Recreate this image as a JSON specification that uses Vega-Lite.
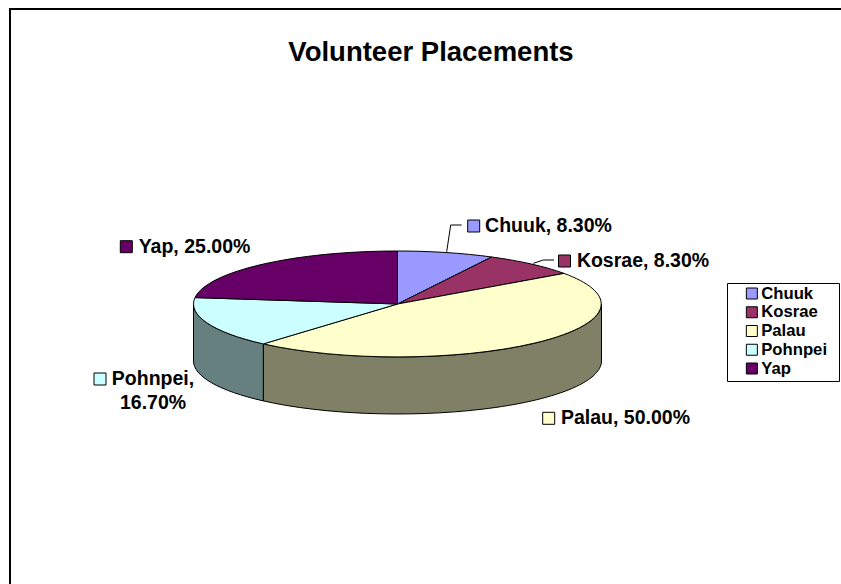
{
"$schema":"https://vega.github.io/schema/vega-lite/v6.json",
"width":840,"height":590,
"autosize":"none",
"padding":{"left":10,"top":9,"right":0,"bottom":0},
"background":"white",
"title":{"text":"Volunteer Placements","font":"Liberation Sans","fontSize":27.5,"fontWeight":"bold","color":"black","anchor":"middle","frame":"group","orient":"top","offset":-57,"dx":1},
"view":{"stroke":"black","strokeWidth":2,"fill":"white"},
"data":{"values":[
{"name":"Chuuk","share":8.3,"i":1,"label":"Chuuk, 8.30%"},
{"name":"Kosrae","share":8.3,"i":2,"label":"Kosrae, 8.30%"},
{"name":"Palau","share":50,"i":3,"label":"Palau, 50.00%"},
{"name":"Pohnpei","share":16.7,"i":4,"label":"Pohnpei,\n16.70%"},
{"name":"Yap","share":25,"i":5,"label":"Yap, 25.00%"}
]},
"layer":[
{"transform":[{"filter":"datum.share==50||datum.share==16.7"}],
 "mark":{"type":"point","filled":true,"opacity":1,"stroke":"black","strokeWidth":1,"size":4},
 "encoding":{
  "color":{"field":"name","type":"nominal","legend":null,"scale":{"domain":["Palau","Pohnpei"],"range":["#808066","#668080"]}},
  "shape":{"field":"name","type":"nominal","legend":null,"scale":{"domain":["Palau","Pohnpei"],"range":[
   "M171.5 0A204 53 0 0 1 -166.7 39.9L-166.7 96.9A204 53 0 0 0 171.5 57Z",
   "M-166.7 39.9A204 53 0 0 1 -236.5 0L-236.5 57A204 53 0 0 0 -166.7 96.9Z"]}}
 }},
{"mark":{"type":"point","filled":true,"opacity":1,"stroke":"black","strokeWidth":1,"size":4},
 "encoding":{
  "fill":{"field":"name","type":"nominal","scale":{"domain":["Chuuk","Kosrae","Palau","Pohnpei","Yap"],"range":["#9999FF","#993366","#FFFFCC","#CCFFFF","#660066"]},
   "legend":{"title":"\u00a0","titleOrient":"right","titlePadding":8,"titleFontSize":10,"orient":"none","legendX":717,"legendY":274,"strokeColor":"black","padding":3.5,"symbolType":"square","symbolSize":121,"symbolStrokeColor":"black","symbolStrokeWidth":1,"symbolOffset":13,"symbolOpacity":1,"labelFont":"Liberation Sans","labelFontSize":16.7,"labelFontWeight":"bold","labelColor":"black","labelOffset":1,"rowPadding":1.75,"clipHeight":14,"fillColor":"white"}},
  "shape":{"field":"name","type":"nominal","legend":null,"scale":{"domain":["Chuuk","Kosrae","Palau","Pohnpei","Yap"],"range":[
   "M-32.5 0L-32.5 -53A204 53 0 0 1 61.7 -47Z",
   "M-32.5 0L61.7 -47A204 53 0 0 1 134 -30.6Z",
   "M-32.5 0L134 -30.6A204 53 0 0 1 -166.7 39.9Z",
   "M-32.5 0L-166.7 39.9A204 53 0 0 1 -235 -6.4Z",
   "M-32.5 0L-235 -6.4A204 53 0 0 1 -32.5 -53Z"]}}
 }},
{"transform":[{"filter":"datum.i<=2"}],
 "mark":{"type":"point","filled":false,"fill":null,"opacity":1,"stroke":"black","strokeWidth":1,"size":4},
 "encoding":{
  "shape":{"field":"name","type":"nominal","legend":null,"scale":{"domain":["Chuuk","Kosrae"],"range":[
   "M16.7 -52.3L20.7 -79L31.7 -79",
   "M103.3 -40.7L113.3 -44L124 -44"]}}
 }},
{"mark":{"type":"point","shape":"square","filled":true,"opacity":1,"stroke":"black","strokeWidth":1,"size":144},
 "encoding":{
  "x":{"field":"i","type":"quantitative","axis":null,"scale":{"domain":[1,2,3,4,5],"range":[463.7,554.5,538.7,90,116.3],"zero":false,"nice":false}},
  "y":{"field":"i","type":"quantitative","axis":null,"scale":{"domain":[1,2,3,4,5],"range":[217,252,409.3,370,237.7],"zero":false,"nice":false}},
  "fill":{"field":"name","type":"nominal"}
 }},
{"mark":{"type":"text","font":"Liberation Sans","fontSize":19.5,"fontWeight":"bold","color":"black","align":"center","baseline":"middle","lineBreak":"\n","lineHeight":24},
 "encoding":{
  "x":{"field":"i","type":"quantitative","axis":null,"scale":{"domain":[1,2,3,4,5],"range":[538.5,633,615.5,143,184.5],"zero":false,"nice":false}},
  "y":{"field":"i","type":"quantitative","axis":null,"scale":{"domain":[1,2,3,4,5],"range":[217,252,409.3,370,237.7],"zero":false,"nice":false}},
  "text":{"field":"label","type":"nominal"}
 }}
],
"resolve":{"scale":{"x":"independent","y":"independent","shape":"independent"}}
}
